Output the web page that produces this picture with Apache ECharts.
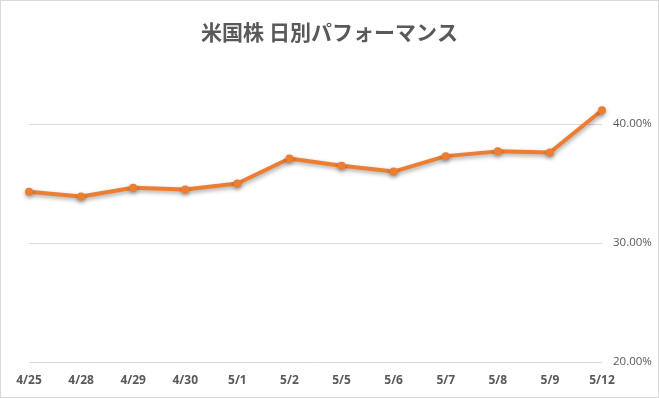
<!DOCTYPE html>
<html>
<head>
<meta charset="utf-8">
<style>
  html, body { margin: 0; padding: 0; background: #fff; }
  #chart { width: 659px; height: 398px; box-sizing: border-box; border: 1px solid #d9d9d9; }
</style>
</head>
<body>
<div id="chart"></div>
<script src="https://cdn.jsdelivr.net/npm/echarts@6/dist/echarts.min.js"></script>
<script>
  // 日付ラベル
  var days = ['4/25', '4/28', '4/29', '4/30', '5/1', '5/2', '5/5', '5/6', '5/7', '5/8', '5/9', '5/12'];
  // 累積パフォーマンス(%)
  var perf = [34.3, 33.9, 34.65, 34.5, 35.0, 37.1, 36.5, 36.0, 37.3, 37.7, 37.6, 41.15];
  var yTicks = [20, 30, 40];

  var chart = echarts.init(document.getElementById('chart'), null, { renderer: 'canvas' });

  var option = {
    backgroundColor: '#fff',
    animation: false,
    title: {
      text: '米国株 日別パフォーマンス',
      left: 'center',
      top: 16,
      textStyle: {
        fontFamily: '"Noto Sans CJK JP", sans-serif',
        fontSize: 21,
        fontWeight: 'bold',
        color: '#595959'
      }
    },
    grid: {
      left: 28,
      right: 56,
      top: 123,
      bottom: 35
    },
    xAxis: {
      type: 'category',
      boundaryGap: false,
      data: days,
      axisLine: { show: false },
      axisTick: { show: false },
      axisLabel: {
        margin: 13,
        fontFamily: '"Open Sans", sans-serif',
        fontSize: 12,
        fontWeight: 'bold',
        color: '#595959'
      }
    },
    yAxis: {
      type: 'value',
      position: 'right',
      min: yTicks[0],
      max: yTicks[yTicks.length - 1],
      interval: 10,
      axisLine: { show: false },
      axisTick: { show: false },
      axisLabel: {
        margin: 11,
        fontFamily: '"Open Sans", sans-serif',
        fontSize: 11.5,
        color: '#595959',
        formatter: function (v) { return v.toFixed(2) + '%'; }
      },
      splitLine: {
        lineStyle: { color: '#d9d9d9', width: 1 }
      }
    },
    series: [{
      type: 'line',
      data: perf,
      clip: false,
      symbol: 'circle',
      symbolSize: 8,
      lineStyle: {
        color: '#ED7D31',
        width: 4,
        shadowColor: 'rgba(0,0,0,0.35)',
        shadowBlur: 4,
        shadowOffsetY: 2,
        shadowOffsetX: 1
      },
      itemStyle: {
        color: '#ED7D31',
        shadowColor: 'rgba(0,0,0,0.35)',
        shadowBlur: 4,
        shadowOffsetY: 2
      },
      emphasis: { disabled: true }
    }]
  };

  chart.setOption(option);
</script>
</body>
</html>
